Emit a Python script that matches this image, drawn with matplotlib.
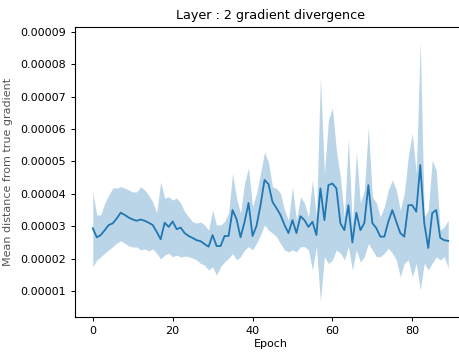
import numpy as np
import matplotlib
matplotlib.use("Agg")
from matplotlib import pyplot as plt
from matplotlib.ticker import FormatStrFormatter

# values, in units of 1e-5
mean_dist = [2.94, 2.66, 2.73, 2.88, 3.04, 3.09, 3.24, 3.42, 3.35, 3.27,
             3.21, 3.17, 3.21, 3.17, 3.11, 3.04, 2.83, 2.60, 3.11, 2.98,
             3.15, 2.91, 2.96, 2.79, 2.70, 2.64, 2.57, 2.54, 2.45, 2.37,
             2.73, 2.39, 2.39, 2.70, 2.70, 3.50, 3.22, 2.66, 3.13, 3.72,
             2.70, 3.01, 3.65, 4.43, 4.30, 3.75, 3.56, 3.35, 3.04, 2.79,
             3.19, 2.79, 3.31, 3.19, 2.98, 3.14, 2.73, 4.17, 3.19, 4.27,
             4.32, 4.17, 3.09, 2.88, 3.65, 2.50, 3.42, 2.88, 3.10, 4.27,
             3.10, 2.94, 2.68, 2.68, 3.14, 3.50, 3.14, 2.79, 2.68, 3.65,
             3.65, 3.45, 4.89, 3.10, 2.33, 3.41, 3.50, 2.64, 2.57, 2.55]
upper = [4.06, 3.35, 3.35, 3.72, 3.96, 4.18, 4.18, 4.22, 4.18, 4.12,
         4.06, 4.06, 4.22, 4.12, 3.96, 3.76, 3.41, 4.37, 3.87, 3.91,
         3.81, 3.87, 3.72, 3.45, 3.29, 3.14, 3.10, 3.13, 3.04, 2.88,
         3.50, 3.04, 3.04, 3.14, 3.41, 4.63, 3.87, 3.41, 4.33, 4.80,
         3.60, 4.02, 4.63, 5.29, 4.98, 4.22, 4.17, 4.02, 3.50, 3.19,
         4.22, 3.19, 3.91, 3.72, 3.29, 4.43, 3.29, 7.60, 4.63, 6.28,
         6.65, 5.35, 4.53, 3.29, 5.72, 3.04, 5.29, 3.72, 4.12, 6.07,
         3.91, 3.72, 3.29, 3.60, 4.12, 4.43, 4.12, 3.50, 4.02, 5.15,
         5.87, 4.63, 8.72, 3.29, 3.50, 5.04, 4.73, 2.88, 2.98, 3.19]
lower = [1.75, 1.96, 2.06, 2.17, 2.27, 2.37, 2.48, 2.55, 2.48, 2.39,
         2.36, 2.36, 2.27, 2.30, 2.24, 2.30, 2.17, 1.99, 2.11, 2.17,
         2.06, 2.11, 2.05, 2.08, 2.06, 2.02, 1.96, 1.85, 1.80, 1.65,
         1.75, 1.49, 1.75, 1.90, 2.01, 2.16, 1.96, 2.06, 2.27, 2.37,
         2.27, 2.47, 2.73, 3.04, 2.88, 2.79, 2.68, 2.47, 2.27, 2.21,
         2.27, 2.21, 2.37, 2.37, 2.27, 1.65, 2.37, 0.68, 2.06, 1.85,
         1.96, 2.27, 2.17, 1.96, 2.37, 1.65, 2.27, 1.90, 2.06, 2.47,
         2.27, 2.06, 2.06, 2.17, 2.32, 2.17, 1.96, 1.44, 1.86, 1.96,
         1.44, 1.86, 1.03, 1.86, 1.65, 1.86, 2.06, 1.96, 2.06, 1.71]
yticks = [1, 2, 3, 4, 5, 6, 7, 8, 9]
xticks = [0, 20, 40, 60, 80]

epoch = np.arange(len(mean_dist))
scale = 1e-5
mean_dist = np.array(mean_dist) * scale
upper = np.array(upper) * scale
lower = np.array(lower) * scale

fig = plt.figure(figsize=(4.6, 3.52), dpi=100)
ax = fig.add_axes([75 / 460, 1 - 317 / 352, 391 / 460, 290 / 352])

ax.fill_between(epoch, lower, upper, color="#1f77b4", alpha=0.3, linewidth=0)
ax.plot(epoch, mean_dist, color="#1f77b4", linewidth=1.3)

ax.set_ylim(0.2e-5, 9.15e-5)
ax.set_yticks(np.array(yticks) * scale)
ax.yaxis.set_major_formatter(FormatStrFormatter("%.5f"))
ax.set_xticks(xticks)
ax.tick_params(labelsize=8, length=2.8, width=0.7)
for s in ax.spines.values():
    s.set_linewidth(0.8)

ax.set_title("Layer : 2 gradient divergence", fontsize=9.2)
ax.set_xlabel("Epoch", fontsize=8, labelpad=2)
# the label sits partly outside the left edge, as in the reference
ax.set_ylabel("Mean distance from true gradient", fontsize=8, color="#555555")
ax.yaxis.set_label_coords(-0.158, 0.5)

fig.savefig("out.png", dpi=100)
